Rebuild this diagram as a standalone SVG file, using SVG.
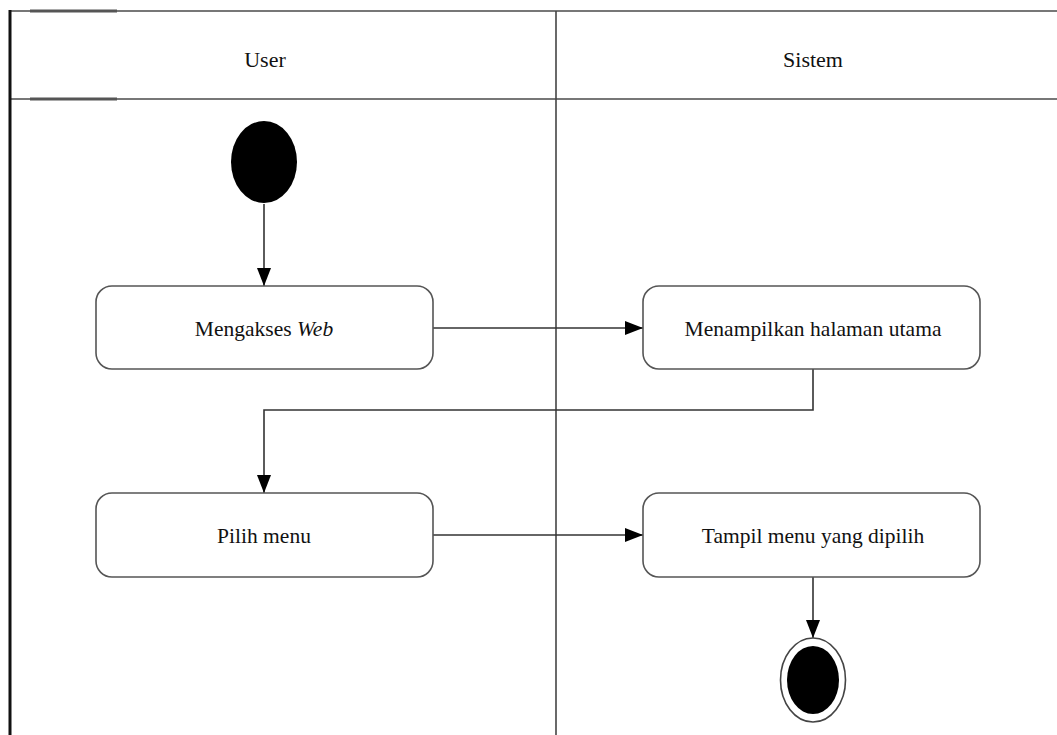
<svg xmlns="http://www.w3.org/2000/svg" width="1057" height="735" viewBox="0 0 1057 735">
<defs>
<style>
.lane{stroke:#777;stroke-width:2;fill:none}
.node{fill:#fff;stroke:#555;stroke-width:1.6}
.lbl{font-family:"Liberation Serif","Times New Roman",serif;font-size:21.5px;fill:#111;text-anchor:middle}
.hdr{font-size:22px}
.conn{stroke:#333;stroke-width:1.6;fill:none}
</style>
<marker id="arr" markerWidth="18" markerHeight="14" refX="18" refY="7" orient="auto" markerUnits="userSpaceOnUse">
<path d="M0,0 L18,7 L0,14 Z" fill="#000"/>
</marker>
</defs>
<rect width="1057" height="735" fill="#fff"/>
<g id="lanes">
<line class="lane" x1="10" y1="11" x2="1057" y2="11"/>
<line class="lane" x1="10" y1="99" x2="1057" y2="99"/>
<line x1="30" y1="11" x2="117" y2="11" stroke="#555" stroke-width="3"/>
<line x1="30" y1="99" x2="117" y2="99" stroke="#555" stroke-width="3"/>
<line x1="10" y1="10" x2="10" y2="735" stroke="#111" stroke-width="3"/>
<line x1="556" y1="11" x2="556" y2="735" stroke="#444" stroke-width="1.6"/>
<text class="lbl hdr" x="265" y="67">User</text>
<text class="lbl hdr" x="813" y="67">Sistem</text>
</g>
<g id="connectors">
<line class="conn" x1="264" y1="204" x2="264" y2="286" marker-end="url(#arr)"/>
<line class="conn" x1="433" y1="328" x2="643" y2="328" marker-end="url(#arr)"/>
<polyline class="conn" points="813,369 813,410 264,410 264,493" marker-end="url(#arr)"/>
<line class="conn" x1="433" y1="535" x2="643" y2="535" marker-end="url(#arr)"/>
<line class="conn" x1="813" y1="577" x2="813" y2="638" marker-end="url(#arr)"/>
</g>
<g id="start">
<ellipse cx="264" cy="162" rx="33" ry="41" fill="#000"/>
</g>
<g id="mengakses">
<rect class="node" x="96" y="286" width="337" height="83" rx="16"/>
<text class="lbl" x="264" y="336">Mengakses <tspan font-style="italic">Web</tspan></text>
</g>
<g id="menampilkan">
<rect class="node" x="643" y="286" width="337" height="83" rx="16"/>
<text class="lbl" x="813" y="336" textLength="257" lengthAdjust="spacing">Menampilkan halaman utama</text>
</g>
<g id="pilih">
<rect class="node" x="96" y="493" width="337" height="84" rx="16"/>
<text class="lbl" x="264" y="543">Pilih menu</text>
</g>
<g id="tampil">
<rect class="node" x="643" y="493" width="337" height="84" rx="16"/>
<text class="lbl" x="813" y="543">Tampil menu yang dipilih</text>
</g>
<g id="end">
<ellipse cx="813" cy="680" rx="32.5" ry="42" fill="#fff" stroke="#444" stroke-width="1.6"/>
<ellipse cx="813" cy="680" rx="26" ry="34" fill="#000"/>
</g>
</svg>
